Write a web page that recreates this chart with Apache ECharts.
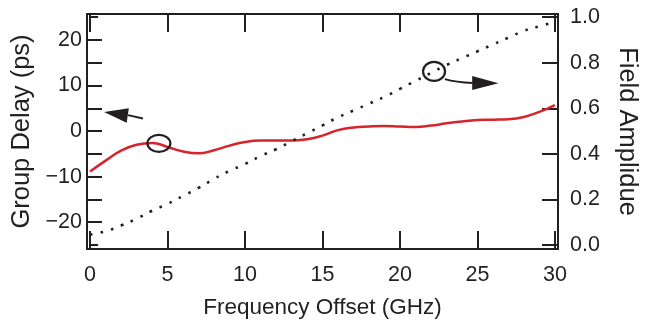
<!DOCTYPE html>
<html>
<head>
<meta charset="utf-8">
<script src="https://cdn.jsdelivr.net/npm/echarts@6/dist/echarts.min.js"></script>
<style>
  html, body { margin: 0; padding: 0; background: #fff; }
  #chart { width: 648px; height: 325px; }
</style>
</head>
<body>
<div id="chart"></div>
<script>
// frequency offset (GHz)
const freq = [0,1,2,3,4,5,6,7,8,9,10,11,12,13,14,15,16,17,18,19,20,21,22,23,24,25,26,27,28,29,30];
// group delay (ps), left axis
const groupDelay = [-8.9,-6.5,-4.3,-3.0,-2.6,-3.5,-4.5,-4.9,-4.2,-3.2,-2.4,-2.1,-2.1,-2.1,-1.8,-1.0,0.2,0.8,1.0,1.1,1.0,0.9,1.2,1.7,2.1,2.4,2.5,2.6,3.1,4.2,5.7];
// field amplitude, right axis
const fieldAmp = [0.045,0.06,0.085,0.115,0.15,0.18,0.215,0.25,0.29,0.325,0.355,0.39,0.42,0.455,0.49,0.525,0.56,0.59,0.62,0.65,0.685,0.72,0.755,0.79,0.82,0.85,0.88,0.91,0.94,0.96,0.98];

const xTicks = [0,5,10,15,20,25,30];
const leftTicks = [-20,-15,-10,-5,0,5,10,15,20];
const leftLabels = [-20,-10,0,10,20];
const rightTicks = [0,0.2,0.4,0.6,0.8,1.0];

// annotations, in (GHz, ps) coordinates
const ovalLeft = [4.44, -2.7];
const ovalRight = [22.2, 13.1];
const arrowLeftHead = [[0.9, 4.2], [2.5, 5.0], [2.36, 1.8]];
const arrowLeftTail = [[2.45, 3.5], [3.41, 2.75]];
const arrowRightHead = [[26.36, 10.5], [24.66, 12.1], [24.66, 9.0]];
const arrowRightTail = [[22.9, 11.4], [23.6, 10.7], [24.7, 10.55]];

const ink = '#231f20';
const font = 'Liberation Sans';

const chart = echarts.init(document.getElementById('chart'), null, { renderer: 'canvas' });

const axisBase = {
    type: 'value',
    axisLine: { show: true, onZero: false, lineStyle: { color: ink, width: 2 } },
    splitLine: { show: false },
    axisTick: { show: true, inside: true, lineStyle: { color: ink, width: 2 } }
};

const option = {
    animation: false,
    grid: { left: 87, right: 89, top: 14, bottom: 76 },
    xAxis: [
        Object.assign({}, axisBase, {
            position: 'bottom', min: -0.2, max: 30.2,
            name: 'Frequency Offset (GHz)', nameLocation: 'middle', nameGap: 47,
            nameTextStyle: { color: ink, fontFamily: font, fontSize: 22.5 },
            axisTick: { show: true, inside: true, length: 18, customValues: xTicks, lineStyle: { color: ink, width: 2 } },
            axisLabel: { customValues: xTicks, margin: 15, color: ink, fontFamily: font, fontSize: 21.5 }
        }),
        Object.assign({}, axisBase, {
            position: 'top', min: -0.2, max: 30.2,
            axisTick: { show: true, inside: true, length: 18, customValues: xTicks, lineStyle: { color: ink, width: 2 } },
            axisLabel: { show: false }
        })
    ],
    yAxis: [
        Object.assign({}, axisBase, {
            position: 'left', min: -25.9, max: 25.7,
            name: 'Group Delay (ps)', nameLocation: 'middle', nameGap: 44, nameRotate: 90,
            nameTextStyle: { color: ink, fontFamily: font, fontSize: 25.5 },
            axisTick: { show: true, inside: true, length: 15, customValues: leftTicks, lineStyle: { color: ink, width: 2 } },
            axisLabel: { customValues: leftLabels, margin: 5, color: ink, fontFamily: font, fontSize: 21.5,
                formatter: function (v) { return String(v).replace('-', '\u2212'); } }
        }),
        Object.assign({}, axisBase, {
            position: 'right', min: -0.018, max: 1.014,
            name: 'Field Amplidue', nameLocation: 'middle', nameGap: 56, nameRotate: -90,
            nameTextStyle: { color: ink, fontFamily: font, fontSize: 25.5 },
            axisTick: { show: true, inside: true, length: 16, customValues: rightTicks, lineStyle: { color: ink, width: 2 } },
            axisLabel: { customValues: rightTicks, margin: 12, color: ink, fontFamily: font, fontSize: 21.5,
                formatter: function (v) { return v.toFixed(1); } }
        }),
        Object.assign({}, axisBase, {
            position: 'left', min: -25.9, max: 25.7,
            axisLine: { show: false },
            axisTick: { show: true, inside: true, length: 8, customValues: [-25, 25], lineStyle: { color: ink, width: 2 } },
            axisLabel: { show: false }
        })
    ],
    series: [
        {
            name: 'Group Delay', type: 'line', xAxisIndex: 0, yAxisIndex: 0,
            data: freq.map((f, i) => [f, groupDelay[i]]),
            smooth: true, symbol: 'none',
            lineStyle: { color: '#d7232b', width: 2.5 }
        },
        {
            name: 'Field Amplitude', type: 'line', xAxisIndex: 0, yAxisIndex: 1,
            data: freq.map((f, i) => [f, fieldAmp[i]]),
            smooth: true, symbol: 'none',
            lineStyle: { color: ink, width: 2.6, type: [2.6, 8.1], cap: 'butt' }
        }
    ]
};

chart.setOption(option);

// place the ovals and arrows from their data coordinates
const px = p => chart.convertToPixel({ xAxisIndex: 0, yAxisIndex: 0 }, p);
const ov1 = px(ovalLeft), ov2 = px(ovalRight);
const tailR = arrowRightTail.map(px);

chart.setOption({
    graphic: [
        { type: 'ellipse', shape: { cx: ov1[0], cy: ov1[1], rx: 11.5, ry: 8.5 },
          style: { fill: 'none', stroke: ink, lineWidth: 2.2 }, z: 10 },
        { type: 'ellipse', shape: { cx: ov2[0], cy: ov2[1], rx: 11, ry: 9.5 },
          style: { fill: 'none', stroke: ink, lineWidth: 2.2 }, z: 10 },
        { type: 'polygon', shape: { points: arrowLeftHead.map(px) },
          style: { fill: ink }, z: 10 },
        { type: 'polyline', shape: { points: arrowLeftTail.map(px) },
          style: { stroke: ink, lineWidth: 2, fill: 'none' }, z: 10 },
        { type: 'polygon', shape: { points: arrowRightHead.map(px) },
          style: { fill: ink }, z: 10 },
        { type: 'bezierCurve', shape: { x1: tailR[0][0], y1: tailR[0][1], cpx1: tailR[1][0], cpy1: tailR[1][1], x2: tailR[2][0], y2: tailR[2][1] },
          style: { stroke: ink, lineWidth: 2, fill: 'none' }, z: 10 }
    ]
});
</script>
</body>
</html>
